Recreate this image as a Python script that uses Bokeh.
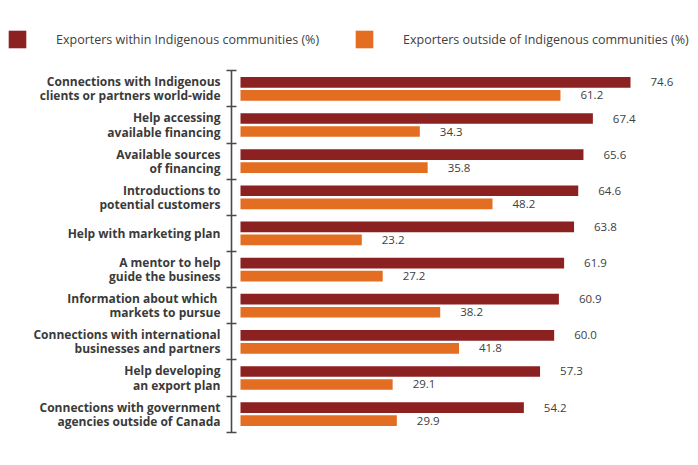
from bokeh.plotting import figure
from bokeh.models import (Range1d, FixedTicker, ColumnDataSource, Legend, LegendItem)
from bokeh.embed import file_html
from bokeh.resources import INLINE
from bokeh.core.properties import value

categories = [
    "Connections with Indigenous\nclients or partners world-wide",
    "Help accessing\navailable financing",
    "Available sources\nof financing",
    "Introductions to\npotential customers",
    "Help with marketing plan",
    "A mentor to help\nguide the business",
    "Information  about which\nmarkets to pursue",
    "Connections with international\nbusinesses and partners",
    "Help developing\nan export plan",
    "Connections with government\nagencies outside of Canada",
]
within = [74.6, 67.4, 65.6, 64.6, 63.8, 61.9, 60.9, 60.0, 57.3, 54.2]
outside = [61.2, 34.3, 35.8, 48.2, 23.2, 27.2, 38.2, 41.8, 29.1, 29.9]
series_names = ["Exporters within Indigenous communities (%)",
                "Exporters outside of Indigenous communities (%)"]

DARK = "#8b2120"
ORANGE = "#e36d21"
TEXT = "#404040"
FONT = "Open Sans"

W, H = 698, 465
# layout in pixels
X0_PX = 240.0          # where value 0 sits
PX_PER_X = 5.228
AXIS_PX = 231.0
Y0_PX = 70.3           # top of first category band
PX_PER_Y = 36.14
LINE_GAP = 7.1         # half the distance between two label lines

n = len(categories)
centers = [i + 0.5 for i in range(n)]
off = 0.18
bh = 0.295

# split each label into its lines (one line per text element, right aligned)
line_txt, line_y, line_off = [], [], []
for c, lab in zip(centers, categories):
    parts = lab.split("\n")
    k = len(parts)
    for j, part in enumerate(parts):
        line_txt.append(part)
        line_y.append(c)
        line_off.append((j - (k - 1) / 2) * 2 * LINE_GAP)

src = ColumnDataSource(dict(
    y1=[c - off for c in centers],
    y2=[c + off for c in centers],
    within=within,
    outside=outside,
    wl=[f"{v:.1f}" for v in within],
    ol=[f"{v:.1f}" for v in outside],
))
lab_src = ColumnDataSource(dict(
    txt=line_txt, y=line_y, yoff=line_off, zero=[0] * len(line_txt),
))

x_start = -X0_PX / PX_PER_X
x_end = (W - X0_PX) / PX_PER_X
y_top = -Y0_PX / PX_PER_Y
y_bottom = (H - Y0_PX) / PX_PER_Y

p = figure(width=W, height=H, output_backend="svg", toolbar_location=None,
           x_range=Range1d(x_start, x_end), y_range=Range1d(y_bottom, y_top),
           min_border=0)
p.outline_line_color = None
p.xgrid.visible = False
p.ygrid.visible = False
p.xaxis.visible = False

ya = p.yaxis[0]
ya.fixed_location = (AXIS_PX - X0_PX) / PX_PER_X
ya.bounds = (0, n)
ya.ticker = FixedTicker(ticks=[], minor_ticks=list(range(n + 1)))
ya.major_tick_in = 0
ya.major_tick_out = 0
ya.minor_tick_in = 5
ya.minor_tick_out = 5
ya.axis_line_color = "#4a4a4a"
ya.minor_tick_line_color = "#4a4a4a"
ya.axis_line_width = 1.6
ya.minor_tick_line_width = 1.6

r1 = p.hbar(y="y1", left=0, right="within", height=bh, source=src,
            fill_color=DARK, line_color=None)
r2 = p.hbar(y="y2", left=0, right="outside", height=bh, source=src,
            fill_color=ORANGE, line_color=None)

p.text(x="within", y="y1", text="wl", source=src, x_offset=20,
       text_align="left", text_baseline="middle", text_color=TEXT,
       text_font=value(FONT), text_font_size="11.5px")
p.text(x="outside", y="y2", text="ol", source=src, x_offset=20,
       text_align="left", text_baseline="middle", text_color=TEXT,
       text_font=value(FONT), text_font_size="11.5px")

p.text(x="zero", y="y", text="txt", source=lab_src, x_offset=-20, y_offset="yoff",
       text_align="right", text_baseline="middle", text_color="#3a3a3a",
       text_font=value(FONT), text_font_style="bold", text_font_size="12px")

for r, name, loc in [(r1, series_names[0], (6, 415)), (r2, series_names[1], (353, 415))]:
    lg = Legend(items=[LegendItem(label=name, renderers=[r])], location=loc,
                glyph_width=22, glyph_height=22, label_standoff=28, padding=0,
                margin=0, border_line_color=None, background_fill_alpha=0,
                label_text_font=FONT, label_text_font_size="12.5px",
                label_text_color=TEXT, label_height=22)
    p.add_layout(lg, "center")

open("out.html", "w").write(file_html(p, INLINE))
